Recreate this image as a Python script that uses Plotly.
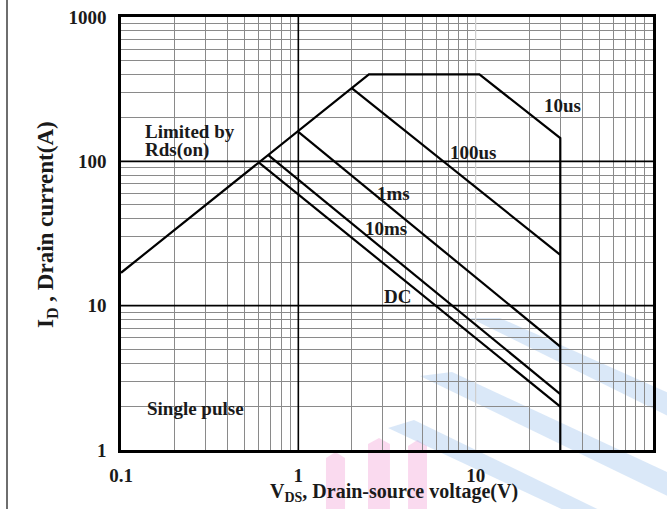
import math
import plotly.graph_objects as go

# ---- data -------------------------------------------------------------
# Safe-operating-area outline: Rds(on) limit -> pulsed current limit -> 10us -> BVdss
outline_v = [0.1, 2.5, 10.5, 30, 30]
outline_i = [16.9, 400, 400, 145, 1]

# Pulse-width limit lines (start on the Rds(on) line, end on the 30 V limit)
line_100us_v = [2.0, 30]
line_100us_i = [321, 22.5]
line_1ms_v = [1.0, 30]
line_1ms_i = [160, 5.2]
line_10ms_v = [0.68, 30]
line_10ms_i = [110, 2.44]
line_dc_v = [0.6, 30]
line_dc_i = [98, 2.0]

# Axis ticks
x_decades = [0.1, 1, 10, 100]
x_decade_labels = ["0.1", "1", "10", "100"]
y_decades = [1, 10, 100, 1000]
y_decade_labels = ["1", "10", "100", "1000"]

# Curve labels: (text, V, I) anchored at their left edge
curve_labels = [
    ("10us", 23.6, 245),
    ("100us", 6.95, 116),
    ("1ms", 2.72, 60.3),
    ("10ms", 2.33, 34.5),
    ("DC", 2.98, 11.5),
    ("Limited by", 0.133, 162),
    ("Rds(on)", 0.133, 120),
    ("Single pulse", 0.1366, 1.95),
]

# ---- layout geometry ---------------------------------------------------
W, H = 667, 509
ML, MR, MT, MB = 121, 14, 17, 59
PW, PH = W - ML - MR, H - MT - MB


def px(x, y):
    """Pixel position -> paper coordinates."""
    return (x - ML) / PW, (H - MB - y) / PH


def minor_vals(decades):
    vals = []
    for d in decades[:-1]:
        for m in range(2, 10):
            vals.append(d * m)
    return vals


FONT = "Liberation Serif"
INK = "#1a1a1a"

fig = go.Figure()

# Faint background logo stripes
def poly_path(pts):
    p = [px(x, y) for x, y in pts]
    return "M " + " L ".join(f"{a:.4f},{b:.4f}" for a, b in p) + " Z"

pink = "rgba(240,150,210,0.35)"
blue = "rgba(150,190,235,0.35)"
for x0, x1, top in [(326, 345, 452), (368, 390, 438), (408, 427, 440)]:
    fig.add_shape(type="path", xref="paper", yref="paper", layer="below",
                  path=poly_path([(x0, 520), (x0, top + 6), ((x0 + x1) / 2, top),
                                  (x1, top + 6), (x1, 520)]),
                  fillcolor=pink, line=dict(width=0))
for pts in [
    [(470, 318), (500, 318), (680, 398), (680, 422)],
    [(420, 376), (452, 372), (680, 478), (680, 502)],
    [(388, 428), (414, 420), (620, 520), (585, 520)],
]:
    fig.add_shape(type="path", xref="paper", yref="paper", layer="below",
                  path=poly_path(pts), fillcolor=blue, line=dict(width=0))

# The V = 10 grid line is drawn faint
fig.add_trace(go.Scatter(x=[10, 10], y=[1, 1000], mode="lines",
                         line=dict(color="#d4d4d4", width=1.2), hoverinfo="skip"))

# Heavier reference lines at V = 1 and I = 10, 100
fig.add_trace(go.Scatter(x=[1, 1], y=[1, 1000], mode="lines",
                         line=dict(color="black", width=1.6), hoverinfo="skip"))
for yy in (10, 100):
    fig.add_trace(go.Scatter(x=[0.1, 100], y=[yy, yy], mode="lines",
                             line=dict(color="black", width=1.6), hoverinfo="skip"))

curve_style = dict(color="black", width=2.2)
for vx, iy in [
    (outline_v, outline_i),
    (line_100us_v, line_100us_i),
    (line_1ms_v, line_1ms_i),
    (line_10ms_v, line_10ms_i),
    (line_dc_v, line_dc_i),
]:
    fig.add_trace(go.Scatter(x=vx, y=iy, mode="lines", line=curve_style,
                             hoverinfo="skip"))

for text, vx, iy in curve_labels:
    fig.add_annotation(x=math.log10(vx), y=math.log10(iy), xref="x", yref="y",
                       text=text, showarrow=False, xanchor="left", yanchor="middle",
                       font=dict(family=FONT, size=19, color=INK, weight="bold"))

# Axis titles
tx, ty = px(394, 492)
fig.add_annotation(x=tx, y=ty, xref="paper", yref="paper", xanchor="center",
                   yanchor="middle", showarrow=False,
                   text="V<sub>DS</sub>, Drain-source voltage(V)",
                   font=dict(family=FONT, size=20, color=INK, weight="bold"))
tx, ty = px(47, 225)
fig.add_annotation(x=tx, y=ty, xref="paper", yref="paper", xanchor="center",
                   yanchor="middle", showarrow=False, textangle=-90,
                   text="I<sub>D</sub> , Drain current(A)",
                   font=dict(family=FONT, size=23, color=INK, weight="bold"))

# Page border on the left
bx, _ = px(7, 0)
_, by0 = px(0, 520)
_, by1 = px(0, -10)
fig.add_shape(type="line", xref="paper", yref="paper", x0=bx, x1=bx,
              y0=by0, y1=by1, line=dict(color="#6e6e6e", width=2))

axis_common = dict(
    type="log",
    automargin=False,
    showgrid=True,
    gridcolor="#8a8a8a",
    gridwidth=1,
    showline=True,
    mirror=True,
    linecolor="black",
    linewidth=2.5,
    ticks="",
    zeroline=False,
    tickfont=dict(family=FONT, size=19, color=INK, weight="bold"),
    tickmode="array",
)

fig.update_xaxes(range=[-1, 2], tickvals=x_decades, ticktext=x_decade_labels,
                 ticklabelstandoff=6,
                 minor=dict(tickmode="array", tickvals=minor_vals(x_decades),
                            showgrid=True, gridcolor="#8a8a8a", gridwidth=1, ticks=""),
                 **axis_common)
fig.update_yaxes(range=[0, 3], tickvals=y_decades, ticktext=y_decade_labels,
                 ticklabelstandoff=8,
                 minor=dict(tickmode="array", tickvals=minor_vals(y_decades),
                            showgrid=True, gridcolor="#8a8a8a", gridwidth=1, ticks=""),
                 **axis_common)

fig.update_layout(
    width=W,
    height=H,
    margin=dict(l=ML, r=MR, t=MT, b=MB),
    paper_bgcolor="white",
    plot_bgcolor="white",
    showlegend=False,
)

fig.write_html("out.html")
